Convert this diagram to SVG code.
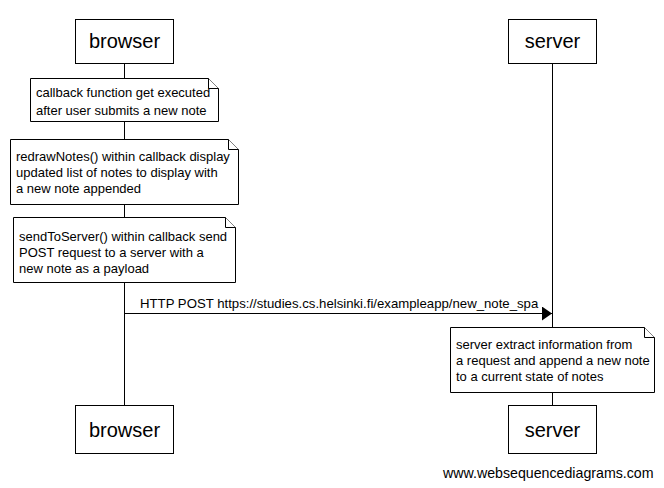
<svg xmlns="http://www.w3.org/2000/svg" width="664" height="488" viewBox="0 0 664 488">
<style>
.box{fill:#fff;stroke:#000;stroke-width:1}
.life{stroke:#000;stroke-width:1}
.note{fill:#fff;stroke:#000;stroke-width:1}
.p{font-family:"Liberation Sans",Arial,sans-serif;font-size:20px;fill:#000;text-anchor:middle}
.t{font-family:"Liberation Sans",Arial,sans-serif;font-size:13px;fill:#000}
</style>
<defs>
<marker id="ah" markerWidth="10" markerHeight="14" refX="10" refY="7" orient="auto" markerUnits="userSpaceOnUse">
<path d="M0,0 L10,7 L0,14 Z" fill="#000"/>
</marker>
</defs>
<rect width="664" height="488" fill="#fff"/>
<g id="lifelines">
<line class="life" x1="124.5" y1="63" x2="124.5" y2="405"/>
<line class="life" x1="552.5" y1="63" x2="552.5" y2="405"/>
</g>
<g id="browser-top"><rect class="box" x="75.5" y="19.5" width="98" height="44"/><text class="p" x="124.5" y="48">browser</text></g>
<g id="server-top"><rect class="box" x="508.5" y="19.5" width="88" height="44"/><text class="p" x="552.5" y="48">server</text></g>
<g id="browser-bottom"><rect class="box" x="75.5" y="405.5" width="98" height="48"/><text class="p" x="124.5" y="437">browser</text></g>
<g id="server-bottom"><rect class="box" x="508.5" y="405.5" width="88" height="48"/><text class="p" x="552.5" y="437">server</text></g>
<g id="note1">
<path class="note" d="M30.5,78.5 H208.5 L218.5,88.5 V121.5 H30.5 Z"/><path class="note" d="M208.5,78.5 V88.5 H218.5" fill="none"/>
<text class="t" x="36" y="97">callback function get executed</text>
<text class="t" x="36" y="115">after user submits a new note</text>
</g>
<g id="note2">
<path class="note" d="M10.5,139.5 H228.5 L238.5,149.5 V204.5 H10.5 Z"/><path class="note" d="M228.5,139.5 V149.5 H238.5" fill="none"/>
<text class="t" x="16" y="161">redrawNotes() within callback display</text>
<text class="t" x="16" y="177">updated list of notes to display with</text>
<text class="t" x="16" y="193">a new note appended</text>
</g>
<g id="note3">
<path class="note" d="M13.5,217.5 H225.5 L235.5,227.5 V282.5 H13.5 Z"/><path class="note" d="M225.5,217.5 V227.5 H235.5" fill="none"/>
<text class="t" x="19" y="241">sendToServer() within callback send</text>
<text class="t" x="19" y="257">POST request to a server with a</text>
<text class="t" x="19" y="273">new note as a payload</text>
</g>
<g id="connectors">
<line x1="124.5" y1="313.5" x2="552" y2="313.5" stroke="#000" stroke-width="1" marker-end="url(#ah)"/>
<text class="t" x="140" y="308" style="font-size:13.2px">HTTP POST https://studies.cs.helsinki.fi/exampleapp/new_note_spa</text>
</g>
<g id="note4">
<path class="note" d="M450.5,327.5 H644.5 L654.5,337.5 V392.5 H450.5 Z"/><path class="note" d="M644.5,327.5 V337.5 H654.5" fill="none"/>
<text class="t" x="456" y="349">server extract information from</text>
<text class="t" x="456" y="365">a request and append a new note</text>
<text class="t" x="456" y="381">to a current state of notes</text>
</g>
<text class="t" x="443" y="478" style="font-size:14.2px">www.websequencediagrams.com</text>
</svg>
